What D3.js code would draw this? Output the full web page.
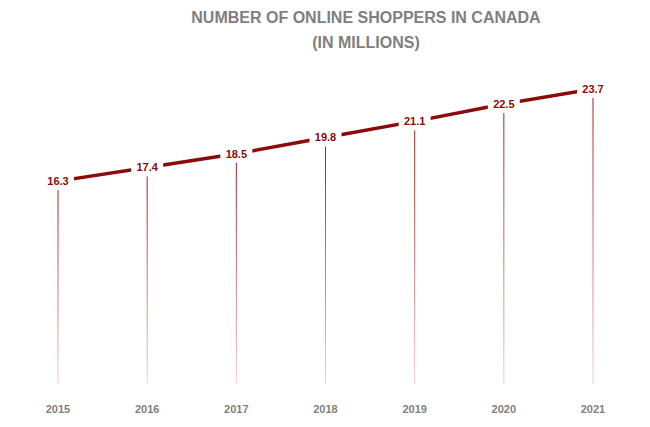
<!DOCTYPE html>
<html><head><meta charset="utf-8">
<script src="https://cdn.jsdelivr.net/npm/d3@7"></script>
<style>body{margin:0;background:#fff}</style>
</head><body>
<svg id="chart" width="650" height="427"></svg>
<script>
// years and shoppers (millions)
var years = ["2015", "2016", "2017", "2018", "2019", "2020", "2021"];
var shoppers = [16.3, 17.4, 18.5, 19.8, 21.1, 22.5, 23.7];
var titleLines = ["NUMBER OF ONLINE SHOPPERS IN CANADA", "(IN MILLIONS)"];

var svg = d3.select("#chart");
var x = d3.scalePoint().domain(years).range([58, 593]);
var y = d3.scaleLinear().domain([0, 23.7]).range([384, 89]);

//title
svg.selectAll(".title").data(titleLines).enter().append("text")
    .attr("x", 366).attr("y", (d, i) => 23 + i * 25)
    .attr("text-anchor", "middle")
    .attr("font-family", "Liberation Sans Narrow, Liberation Sans, Arial, sans-serif")
    .attr("font-weight", "bold").attr("font-size", 16)
    .attr("fill", "#7f7f7f").text(d => d);

//fading drop line gradient
var grad = svg.append("defs").append("linearGradient")
    .attr("id", "drop").attr("x1", 0).attr("y1", 0).attr("x2", 0).attr("y2", 1);
grad.append("stop").attr("offset", "0%").attr("stop-color", "#a01a1a");
grad.append("stop").attr("offset", "100%").attr("stop-color", "#f2d0d0");

svg.selectAll(".drop").data(shoppers).enter().append("rect")
    .attr("x", (d, i) => x(years[i]) - 0.5).attr("width", 1)
    .attr("y", d => y(d)).attr("height", d => y(0) - y(d))
    .attr("fill", "url(#drop)");

//main line
svg.append("path").datum(shoppers)
    .attr("d", d3.line().x((d, i) => x(years[i])).y(d => y(d)))
    .attr("fill", "none").attr("stroke", "#8b0a0a").attr("stroke-width", 3.5);

//value labels with white boxes
var lab = svg.selectAll(".lab").data(shoppers).enter().append("g")
    .attr("transform", (d, i) => `translate(${x(years[i])},${y(d)})`);
lab.append("rect").attr("x", -16).attr("y", -9).attr("width", 32).attr("height", 18).attr("fill", "#fff");
lab.append("text").attr("text-anchor", "middle").attr("dy", "0.35em")
    .attr("font-family", "Liberation Sans, Arial, sans-serif")
    .attr("font-weight", "bold").attr("font-size", 11)
    .attr("fill", "#8b0a0a").text(d => d.toFixed(1));

//x axis labels
svg.selectAll(".yr").data(years).enter().append("text")
    .attr("x", d => x(d)).attr("y", 413).attr("text-anchor", "middle")
    .attr("font-family", "Liberation Sans, Arial, sans-serif")
    .attr("font-weight", "bold").attr("font-size", 11)
    .attr("fill", "#7f7f7f").text(d => d);
</script>
</body></html>
